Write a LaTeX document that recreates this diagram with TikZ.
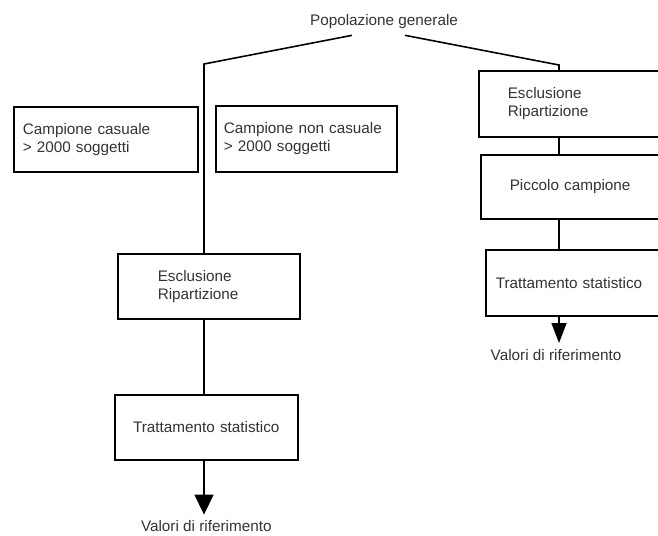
\documentclass[tikz,border=0pt]{standalone}
\usepackage{fontspec}
\setmainfont{Liberation Sans}
\usetikzlibrary{positioning,arrows.meta}

\begin{document}
\begin{tikzpicture}[
    x=0.02cm, y=-0.02cm,
    testo/.style={font=\fontsize{8.7}{10.4}\selectfont, text=black!80},
    blocco/.style={rectangle, draw, line width=0.9pt, anchor=north west, align=left, testo},
    linea/.style={line width=0.9pt},
    freccia/.style={linea, -{Triangle[length=0.4cm, width=0.38cm]}}
]
\useasboundingbox (0,0) rectangle (658,535);

\node[testo] (pop) at (384,22) {Popolazione generale};
\coordinate (gomitoA) at (204,64);
\coordinate (gomitoB) at (559,65);

% ramo sinistro
\node[blocco, text width=3.32cm, inner xsep=0.18cm, minimum height=1.30cm] (casuale) at (13,106) {Campione casuale\\> 2000 soggetti};
\node[blocco, text width=3.30cm, inner xsep=0.16cm, minimum height=1.32cm] (noncasuale) at (215,105) {Campione non casuale\\> 2000 soggetti};
\node[blocco, text width=2.04cm, inner xsep=0.80cm, minimum height=1.30cm] (esclA) at (117,253) {Esclusione\\Ripartizione};
\node[blocco, align=center, text width=3.30cm, inner xsep=0.18cm, minimum height=1.30cm] (trattA) at (114,394) {Trattamento statistico};
\node[testo, below=1.08cm of trattA] (valA) {Valori di riferimento};

% ramo destro
\node[blocco, text width=2.50cm, inner xsep=0.58cm, minimum height=1.32cm] (esclB) at (478,70) {Esclusione\\Ripartizione};
\node[blocco, text width=2.50cm, inner xsep=0.58cm, minimum height=1.28cm] (piccolo) at (480,154) {Piccolo campione};
\node[blocco, text width=3.26cm, inner xsep=0.20cm, minimum height=1.32cm] (trattB) at (485,249) {Trattamento statistico};
\node[testo, anchor=north] (valB) at (556,343) {Valori di riferimento};

\draw[linea] ([xshift=-0.64cm]pop.south) -- (gomitoA) -- (gomitoA |- esclA.north);
\draw[linea] ([xshift=0.42cm]pop.south) -- (gomitoB) -- (gomitoB |- esclB.north);
\draw[linea] (esclA.south -| gomitoA) -- (trattA.north -| gomitoA);
\draw[freccia] (trattA.south -| gomitoA) -- (valA.north -| gomitoA);
\draw[linea] (esclB.south -| gomitoB) -- (piccolo.north -| gomitoB);
\draw[linea] (piccolo.south -| gomitoB) -- (trattB.north -| gomitoB);
\draw[freccia, -{Triangle[length=0.4cm, width=0.3cm]}] (trattB.south -| gomitoB) -- (valB.north -| gomitoB);

\end{tikzpicture}
\end{document}
